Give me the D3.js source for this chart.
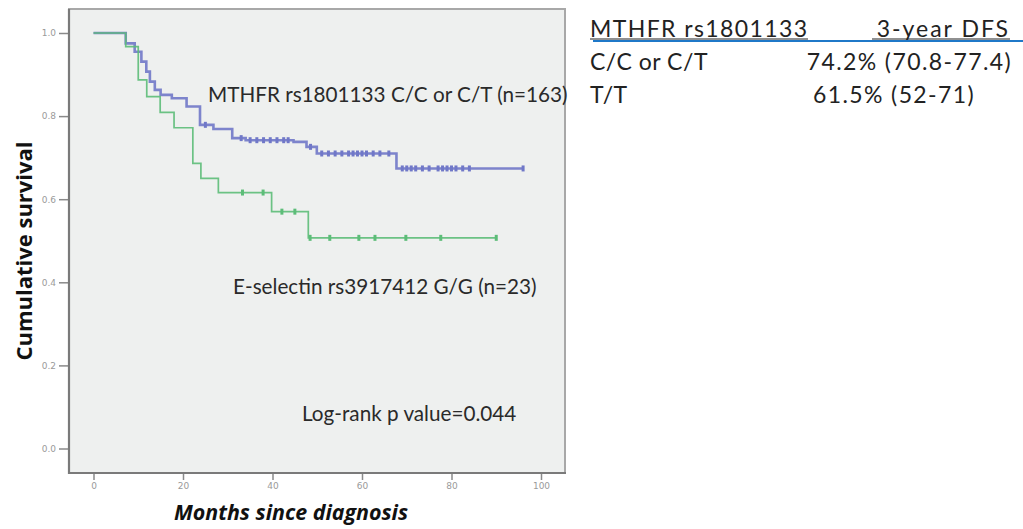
<!DOCTYPE html>
<html>
<head>
<meta charset="utf-8">
<script src="https://cdn.jsdelivr.net/npm/d3@7"></script>
<style>
body { margin: 0; background: #fff; }
svg { display: block; }
</style>
</head>
<body>
<svg id="chart" width="1023" height="529"></svg>
<script>
const width = 1023;
const height = 529;

// Kaplan-Meier steps: time (months) and survival after that step
const blueTimes = [0, 7.2, 9.2, 10.7, 11.8, 12.6, 13.7, 15, 17.5, 20.8, 23.8, 26.8, 31, 34, 44.7, 47.6, 49.9, 67.7];
const blueSurv = [1, 0.975, 0.955, 0.931, 0.907, 0.883, 0.863, 0.851, 0.843, 0.823, 0.779, 0.769, 0.747, 0.742, 0.738, 0.726, 0.71, 0.674];
const blueLast = 96;
const blueCensor = [25, 33, 35, 36.5, 38, 39.5, 41, 42.5, 43.5, 48.5, 51, 52.5, 54, 55.5, 57, 58, 59, 60, 61, 62.5, 64, 66,
    69, 70, 71, 72, 73.5, 75, 77, 78, 79, 80, 81, 82.5, 84, 96];

const greenTimes = [0, 7.2, 10, 11.9, 14.9, 18, 22.2, 24, 27.9, 39.8, 48];
const greenSurv = [1, 0.967, 0.887, 0.847, 0.809, 0.772, 0.686, 0.65, 0.616, 0.57, 0.507];
const greenLast = 90;
const greenCensor = [33.3, 37.9, 42.1, 45, 48.4, 52.8, 59.3, 62.9, 69.8, 77.6, 90];

const xTicks = [0, 20, 40, 60, 80, 100];
const yTicks = [0, 0.2, 0.4, 0.6, 0.8, 1.0];

const curveLabels = ["MTHFR rs1801133 C/C or C/T (n=163)", "E-selectin rs3917412 G/G (n=23)"];
const pValueText = "Log-rank p value=0.044";

const tableHeader = ["MTHFR rs1801133", "3-year DFS"];
const tableRows = [["C/C or C/T", "74.2% (70.8-77.4)"], ["T/T", "61.5% (52-71)"]];

const svg = d3.select("#chart");

const x = d3.scaleLinear().domain([0, 100]).range([93.5, 541]);
const y = d3.scaleLinear().domain([0, 1]).range([448.5, 33]);

// plot panel
const frame = { left: 69, top: 9, right: 565, bottom: 473 };
svg.append("rect")
    .attr("x", frame.left).attr("y", frame.top)
    .attr("width", frame.right - frame.left).attr("height", frame.bottom - frame.top)
    .attr("fill", "#eef0ef")
    .attr("stroke", "#a8a8a8")
    .attr("stroke-width", 2);

// axes
const yAxis = svg.append("g")
    .attr("transform", "translate(" + frame.left + ",0)")
    .call(d3.axisLeft(y).tickValues(yTicks).tickFormat(d3.format(".1f")).tickSize(10).tickPadding(3));
const xAxis = svg.append("g")
    .attr("transform", "translate(0," + frame.bottom + ")")
    .call(d3.axisBottom(x).tickValues(xTicks).tickSize(7).tickPadding(3));

[xAxis, yAxis].forEach(function (g) {
    g.select(".domain").remove();
    g.selectAll("line").attr("stroke", "#8a8a8a").attr("stroke-width", 1.5);
    g.selectAll("text")
        .attr("fill", "#9a9a9a")
        .style("font-family", "DejaVu Sans, sans-serif")
        .style("font-size", "9px");
});

svg.append("line")
    .attr("x1", frame.left).attr("x2", frame.left)
    .attr("y1", frame.top).attr("y2", frame.bottom + 1)
    .attr("stroke", "#7a7a7a").attr("stroke-width", 2.2);
svg.append("line")
    .attr("x1", frame.left - 1).attr("x2", frame.right + 1)
    .attr("y1", frame.bottom).attr("y2", frame.bottom)
    .attr("stroke", "#7a7a7a").attr("stroke-width", 2.2);

// survival curves
function stepPoints(times, surv, last) {
    const pts = times.map((t, i) => [t, surv[i]]);
    pts.push([last, surv[surv.length - 1]]);
    return pts;
}

function survAt(times, surv, t) {
    let s = surv[0];
    times.forEach((tt, i) => { if (tt <= t) s = surv[i]; });
    return s;
}

const line = d3.line()
    .x(d => x(d[0]))
    .y(d => y(d[1]))
    .curve(d3.curveStepAfter);

const groups = [
    { times: blueTimes, surv: blueSurv, last: blueLast, censor: blueCensor, color: "#7078c8", width: 2.6 },
    { times: greenTimes, surv: greenSurv, last: greenLast, censor: greenCensor, color: "#5cbd78", width: 1.7 }
];

groups.forEach(function (g) {
    svg.append("path")
        .datum(stepPoints(g.times, g.surv, g.last))
        .attr("fill", "none")
        .attr("stroke", g.color)
        .attr("stroke-width", g.width)
        .attr("stroke-opacity", 0.9)
        .attr("d", line);

    svg.append("g")
        .selectAll("line")
        .data(g.censor)
        .enter()
        .append("line")
        .attr("x1", d => x(d)).attr("x2", d => x(d))
        .attr("y1", d => y(survAt(g.times, g.surv, d)) - 3)
        .attr("y2", d => y(survAt(g.times, g.surv, d)) + 3)
        .attr("stroke", g.color)
        .attr("stroke-width", 3);
});

// annotations inside the plot
const annoFont = "Lato, 'Open Sans', sans-serif";
const annoSize = "20.7px";
svg.append("text")
    .attr("x", 208).attr("y", 102)
    .style("font-family", annoFont).style("font-size", annoSize).attr("fill", "#2a2a2a")
    .text(curveLabels[0]);
svg.append("text")
    .attr("x", 233).attr("y", 294)
    .style("font-family", annoFont).style("font-size", annoSize).attr("fill", "#2a2a2a")
    .text(curveLabels[1]);
svg.append("text")
    .attr("x", 302).attr("y", 421)
    .style("font-family", annoFont).style("font-size", annoSize).attr("fill", "#2a2a2a")
    .text(pValueText);

// axis titles
svg.append("text")
    .attr("transform", "translate(32,251) rotate(-90)")
    .attr("text-anchor", "middle")
    .style("font-family", "'Open Sans', sans-serif")
    .style("font-weight", "bold")
    .style("font-size", "22px")
    .attr("fill", "#111")
    .text("Cumulative survival");
svg.append("text")
    .attr("x", 291).attr("y", 520)
    .attr("text-anchor", "middle")
    .style("font-family", "'Open Sans', sans-serif")
    .style("font-weight", "bold")
    .style("font-style", "italic")
    .style("font-size", "21.4px")
    .attr("fill", "#111")
    .text("Months since diagnosis");

// side table
const tableFont = "Lato, 'Open Sans', sans-serif";
const header = svg.append("g")
    .style("font-family", tableFont).style("font-size", "23px").attr("fill", "#222");
header.append("text").attr("x", 590).attr("y", 37)
    .style("letter-spacing", "1.4px").text(tableHeader[0]);
header.append("text").attr("x", 1010).attr("y", 37).attr("text-anchor", "end")
    .style("letter-spacing", "2px").text(tableHeader[1]);
svg.append("line")
    .attr("x1", 590).attr("x2", 808).attr("y1", 39).attr("y2", 39)
    .attr("stroke", "#222").attr("stroke-width", 1.2);
svg.append("line")
    .attr("x1", 872).attr("x2", 1010).attr("y1", 39).attr("y2", 39)
    .attr("stroke", "#222").attr("stroke-width", 1.2);
svg.append("line")
    .attr("x1", 593).attr("x2", 1023).attr("y1", 41).attr("y2", 41)
    .attr("stroke", "#1f78c8").attr("stroke-width", 2);

const rowsG = svg.append("g")
    .style("font-family", tableFont).style("font-size", "23px").attr("fill", "#222");
rowsG.selectAll(".lab")
    .data(tableRows)
    .enter()
    .append("text")
    .attr("x", 590)
    .attr("y", (d, i) => 70 + i * 33)
    .style("letter-spacing", "0.5px")
    .text(d => d[0]);
rowsG.selectAll(".val")
    .data(tableRows)
    .enter()
    .append("text")
    .attr("x", (d, i) => i === 0 ? 1012 : 894)
    .attr("y", (d, i) => 70 + i * 33)
    .attr("text-anchor", (d, i) => i === 0 ? "end" : "middle")
    .style("letter-spacing", "1.4px")
    .text(d => d[1]);
</script>
</body>
</html>
